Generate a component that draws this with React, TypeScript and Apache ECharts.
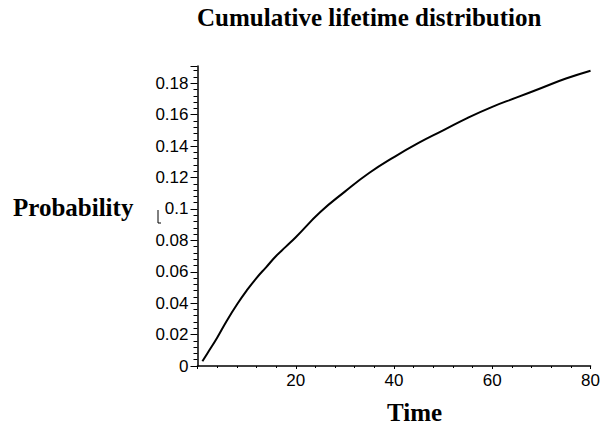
import React, { useEffect, useRef } from "react";
import * as echarts from "echarts";

const titleText = "Cumulative lifetime distribution";
const xAxisTitle = "Time";
const yAxisTitle = "Probability";

const times = [1, 2, 4, 6, 8, 10, 12, 14, 16, 18, 20, 25, 30, 35, 40, 45, 50, 55, 60, 65, 70, 75, 80];
const probabilities = [
  0.003, 0.008, 0.018, 0.029, 0.039, 0.048, 0.056, 0.063, 0.07, 0.076, 0.082, 0.098, 0.111, 0.123,
  0.133, 0.142, 0.15, 0.158, 0.165, 0.171, 0.177, 0.183, 0.188,
];

const xTicks = [0, 20, 40, 60, 80];
const yTicks = [0, 0.02, 0.04, 0.06, 0.08, 0.1, 0.12, 0.14, 0.16, 0.18];

export default function App() {
  const ref = useRef<HTMLDivElement>(null);
  useEffect(() => {
    if (!ref.current) return;
    const chart = echarts.init(ref.current, null, { renderer: "svg" });
    const data = times.map((t, i) => [t, probabilities[i]]);
    const labelFont = "Liberation Sans, Arial, sans-serif";
    const serif = "Liberation Serif, Times New Roman, serif";
    chart.setOption({
      animation: false,
      backgroundColor: "#ffffff",
      grid: { left: 197.5, right: 8, top: 66, bottom: 63, containLabel: false },
      xAxis: {
        type: "value",
        min: xTicks[0],
        max: xTicks[xTicks.length - 1],
        interval: 20,
        splitLine: { show: false },
        axisLine: { show: true, lineStyle: { color: "#000", width: 1.5 } },
        axisTick: { show: true, length: 3, lineStyle: { color: "#000" } },
        minorTick: { show: true, splitNumber: 5, length: 2, lineStyle: { color: "#000" } },
        axisLabel: {
          showMinLabel: false,
          color: "#000",
          fontFamily: labelFont,
          fontSize: 17,
          margin: 6,
        },
      },
      yAxis: {
        type: "value",
        min: yTicks[0],
        max: 0.191,
        interval: 0.02,
        splitLine: { show: false },
        axisLine: { show: true, lineStyle: { color: "#000", width: 1.5 } },
        axisTick: { show: true, length: 7, lineStyle: { color: "#000" } },
        minorTick: { show: true, splitNumber: 5, length: 4, lineStyle: { color: "#000" } },
        axisLabel: {
          showMaxLabel: false,
          color: "#000",
          fontFamily: labelFont,
          fontSize: 17,
          margin: 9,
          formatter: (v: number) => String(+v.toFixed(2)),
        },
      },
      graphic: [
        {
          type: "text",
          x: 197,
          y: 5,
          style: { text: titleText, font: `bold 25px ${serif}`, fill: "#000" },
        },
        {
          type: "text",
          x: 13,
          y: 195,
          style: { text: yAxisTitle, font: `bold 25px ${serif}`, fill: "#000" },
        },
        {
          type: "text",
          x: 387,
          y: 400,
          style: { text: xAxisTitle, font: `bold 25px ${serif}`, fill: "#000" },
        },
        {
          type: "polyline",
          shape: { points: [[158, 210], [158, 223], [161, 223]] },
          style: { stroke: "#000", lineWidth: 1, fill: "none" },
        },
      ],
      series: [
        {
          type: "line",
          data,
          smooth: true,
          showSymbol: false,
          lineStyle: { color: "#000", width: 2 },
        },
      ],
    });
    return () => chart.dispose();
  }, []);
  return (
    <div
      ref={ref}
      style={{ position: "fixed", left: 0, top: 0, width: 603, height: 429 }}
    />
  );
}
